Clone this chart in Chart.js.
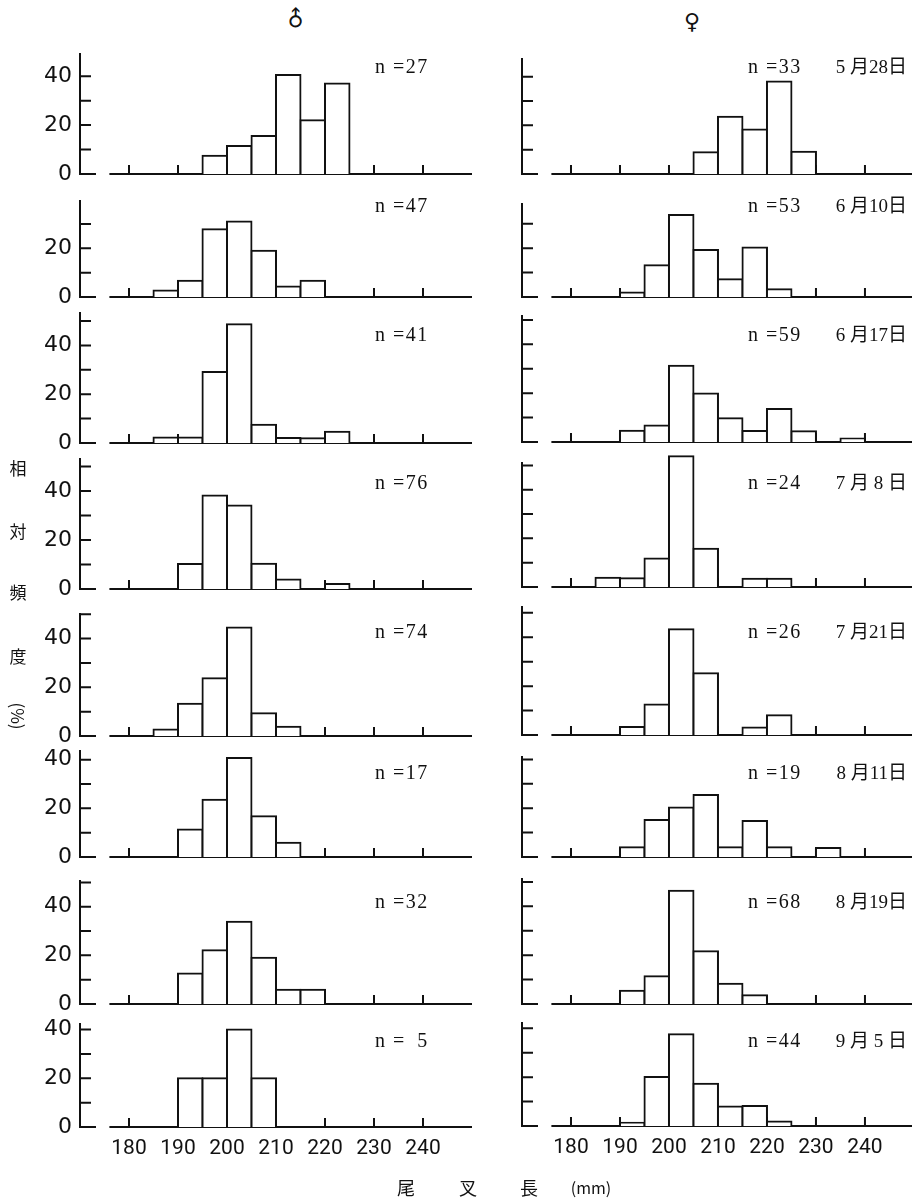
<!DOCTYPE html>
<html lang="ja">
<head>
<meta charset="utf-8">
<title>尾叉長の相対頻度</title>
<script src="https://cdn.jsdelivr.net/npm/chart.js@4.4.1/dist/chart.umd.min.js"></script>
<style>
  html, body { margin: 0; padding: 0; background: #fff; }
  #page { position: relative; width: 912px; height: 1200px; overflow: hidden; }
  #page canvas { position: absolute; }
  .t { position: absolute; color: #111; white-space: nowrap; line-height: 1; }
  .n { font-family: "Liberation Serif", serif; font-size: 20px; letter-spacing: 1.5px; transform: translateY(-50%); }
  .d { font-family: "Liberation Serif", "Noto Sans CJK JP", serif; font-size: 19px; transform: translateY(-50%); }
  .c { font-family: "Noto Sans CJK JP", sans-serif; font-size: 17px; transform: translate(-50%, -50%); }
  .sym { font-family: "DejaVu Sans", sans-serif; font-size: 22px; transform: translate(-50%, -50%); }
</style>
</head>
<body>
<div id="page"></div>
<script>
// bin starts in mm, every bin is 5 mm wide
var bins = [185, 190, 195, 200, 205, 210, 215, 220, 225, 230, 235];
var xTickLabels = [180, 190, 200, 210, 220, 230, 240];
var yTickLabels = [0, 20, 40];
var dates = ["5 月28日", "6 月10日", "6 月17日", "7 月 8 日", "7 月21日", "8 月11日", "8 月19日", "9 月 5 日"];
var maleN = [27, 47, 41, 76, 74, 17, 32, 5];
var femaleN = [33, 53, 59, 24, 26, 19, 68, 44];

// relative frequency (%) per bin, male (left column)
var maleMay28 = [null, null, 7.5, 11.5, 15.5, 40.5, 22, 37, null, null, null];
var maleJun10 = [2.7, 6.7, 27.8, 31, 19, 4.3, 6.7, null, null, null, null];
var maleJun17 = [2.3, 2.3, 29.1, 48.7, 7.5, 2.1, 1.9, 4.6, null, null, null];
var maleJul08 = [null, 10.2, 38.2, 34.1, 10.3, 3.9, null, 2, null, null, null];
var maleJul21 = [2.7, 13.2, 23.7, 44.5, 9.3, 3.8, null, null, null, null, null];
var maleAug11 = [null, 11.3, 23.5, 40.7, 16.8, 5.9, null, null, null, null, null];
var maleAug19 = [null, 12.5, 22.1, 33.8, 19, 5.9, 5.9, null, null, null, null];
var maleSep05 = [null, 20, 20, 40, 20, null, null, null, null, null, null];

// relative frequency (%) per bin, female (right column)
var femaleMay28 = [null, null, null, null, 8.9, 23.5, 18.3, 38, 9.1, null, null];
var femaleJun10 = [null, 1.8, 13, 33.6, 19.2, 7.3, 20.3, 3.2, null, null, null];
var femaleJun17 = [null, 4.6, 6.8, 31.2, 19.9, 9.7, 4.5, 13.5, 4.4, null, 1.4];
var femaleJul08 = [3.8, 3.6, 11.7, 53.8, 15.7, null, 3.4, 3.4, null, null, null];
var femaleJul21 = [null, 3.3, 12.5, 43.3, 25.3, null, 3.1, 8.1, null, null, null];
var femaleAug11 = [null, 4, 15.2, 20.3, 25.4, 4, 14.8, 4, null, 3.7, null];
var femaleAug19 = [null, 5.4, 11.4, 46.4, 21.6, 8.3, 3.6, null, null, null, null];
var femaleSep05 = [null, 1.3, 20.1, 37.6, 17.3, 8, 8.2, 1.8, null, null, null];

var male = [maleMay28, maleJun10, maleJun17, maleJul08, maleJul21, maleAug11, maleAug19, maleSep05];
var female = [femaleMay28, femaleJun10, femaleJun17, femaleJul08, femaleJul21, femaleAug11, femaleAug19, femaleSep05];

// layout of the scan: where each panel's zero line sits and how tall its y axis is
var zeroLeft = [174, 296.7, 442.7, 588.7, 736, 857.7, 1004.3, 1126.7];
var zeroRight = [174, 296.7, 442.3, 587.3, 735, 856.7, 1004.3, 1126];
var topLeft = [49.5, 39.8, 53.7, 53.5, 50.5, 44, 51, 42.7];
var topRight = [47.7, 38.5, 52, 51.4, 52.8, 41.4, 51.6, 42.6];
var labelY = [66, 205, 334, 482, 631, 772, 901, 1040];
var PX = 2.44;   // pixels per percent
var ink = "#111";

var page = document.getElementById("page");

// axes of the scan: L shaped y axis with inner ticks, detached baseline, upward x ticks
var axisPlugin = {
  id: "scanAxes",
  beforeDatasetsDraw: function(chart) {
    var xs = chart.scales.x, ys = chart.scales.y, ctx = chart.ctx;
    var x0 = xs.getPixelForValue(170);
    var y0 = ys.getPixelForValue(0);
    ctx.save();
    ctx.strokeStyle = ink;
    ctx.lineWidth = 2;
    ctx.beginPath();
    ctx.moveTo(x0, ys.getPixelForValue(ys.max));
    ctx.lineTo(x0, y0 + 1);
    ctx.moveTo(x0 - 1, y0);
    ctx.lineTo(x0 + 16, y0);
    for (var v = 10; v <= ys.max; v += 10) {
      var py = ys.getPixelForValue(v);
      ctx.moveTo(x0, py);
      ctx.lineTo(x0 + 11, py);
    }
    ctx.moveTo(xs.getPixelForValue(176), y0);
    ctx.lineTo(xs.getPixelForValue(xs.max), y0);
    xTickLabels.forEach(function(t) {
      var px = xs.getPixelForValue(t);
      ctx.moveTo(px, y0);
      ctx.lineTo(px, y0 - 9);
    });
    ctx.stroke();
    ctx.restore();
  }
};

function makePanel(isLeft, row) {
  var vals = isLeft ? male[row] : female[row];
  var top = isLeft ? topLeft[row] : topRight[row];
  var zero = isLeft ? zeroLeft[row] : zeroRight[row];
  var bottomRow = row === 7;
  var padTop = 14, padBottom = 14, xh = bottomRow ? 34 : 0;
  var plotH = top * PX;
  var w = isLeft ? 480 : 442;
  var cv = document.createElement("canvas");
  cv.width = w;
  cv.height = Math.round(padTop + plotH + xh + padBottom);
  cv.style.left = (isLeft ? 0 : 470) + "px";
  cv.style.top = Math.round(zero - plotH - padTop) + "px";
  page.appendChild(cv);

  var pts = [];
  for (var i = 0; i < bins.length; i++) {
    if (vals[i] !== null) pts.push({ x: bins[i] + 2.5, y: vals[i] });
  }

  new Chart(cv.getContext("2d"), {
    type: "bar",
    data: {
      datasets: [{
        data: pts,
        backgroundColor: "#fff",
        borderColor: ink,
        borderWidth: 2,
        borderSkipped: "start",
        inflateAmount: 1,
        barPercentage: 1,
        categoryPercentage: 1,
        clip: false
      }]
    },
    options: {
      responsive: false,
      animation: false,
      events: [],
      layout: { padding: { top: padTop, bottom: padBottom, left: 0, right: isLeft ? 8 : 0 } },
      plugins: { legend: { display: false }, tooltip: { enabled: false } },
      scales: {
        x: {
          type: "linear",
          offset: false,
          min: 170,
          max: isLeft ? 250 : 249.6,
          display: bottomRow,
          grid: { display: false, drawTicks: false, offset: false },
          border: { display: false },
          afterBuildTicks: function(s) { s.ticks = xTickLabels.map(function(v) { return { value: v }; }); },
          afterFit: function(s) { s.height = xh; s.paddingLeft = 0; s.paddingRight = 0; },
          ticks: { font: { family: "Roboto", size: 21 }, color: ink, padding: 9, maxRotation: 0, autoSkip: false }
        },
        y: {
          min: 0,
          max: top,
          grid: { display: false, drawTicks: false },
          border: { display: false },
          afterBuildTicks: function(s) {
            s.ticks = yTickLabels.filter(function(v) { return v <= top; }).map(function(v) { return { value: v }; });
          },
          afterFit: function(s) { s.width = isLeft ? 80 : 52; s.paddingTop = 0; s.paddingBottom = 0; },
          ticks: { display: isLeft, font: { family: "DejaVu Sans", size: 22 }, color: ink, padding: 8 }
        }
      }
    },
    plugins: [axisPlugin]
  });
}

function addText(cls, txt, css) {
  var el = document.createElement("div");
  el.className = "t " + cls;
  el.textContent = txt;
  for (var k in css) el.style[k] = css[k];
  page.appendChild(el);
}

function nText(n) {
  return n < 10 ? "n =\u2007" + n : "n =" + n;
}

for (var r = 0; r < 8; r++) {
  makePanel(true, r);
  makePanel(false, r);
  addText("n", nText(maleN[r]), { left: "375px", top: labelY[r] + "px" });
  addText("n", nText(femaleN[r]), { left: "748px", top: labelY[r] + "px" });
  addText("d", dates[r], { right: "5px", top: labelY[r] + "px" });
}

// old style male sign, arrow pointing straight up
addText("sym", "\u2642", { left: "296px", top: "19px", transform: "translate(-50%, -50%) rotate(-45deg)" });
addText("sym", "\u2640", { left: "692px", top: "22px" });

var yTitle = ["相", "対", "頻", "度"];
var yTitleY = [467, 530, 591, 655];
yTitle.forEach(function(ch, i) { addText("c", ch, { left: "18px", top: yTitleY[i] + "px" }); });
addText("c", "(%)", { left: "18px", top: "716px", transform: "translate(-50%, -50%) rotate(90deg)" });

var xTitle = ["尾", "叉", "長"];
var xTitleX = [406, 468, 529];
xTitle.forEach(function(ch, i) { addText("c", ch, { left: xTitleX[i] + "px", top: "1187px", fontSize: "18px" }); });
addText("c", "(mm)", { left: "591px", top: "1187px", fontSize: "16px" });
</script>
</body>
</html>
